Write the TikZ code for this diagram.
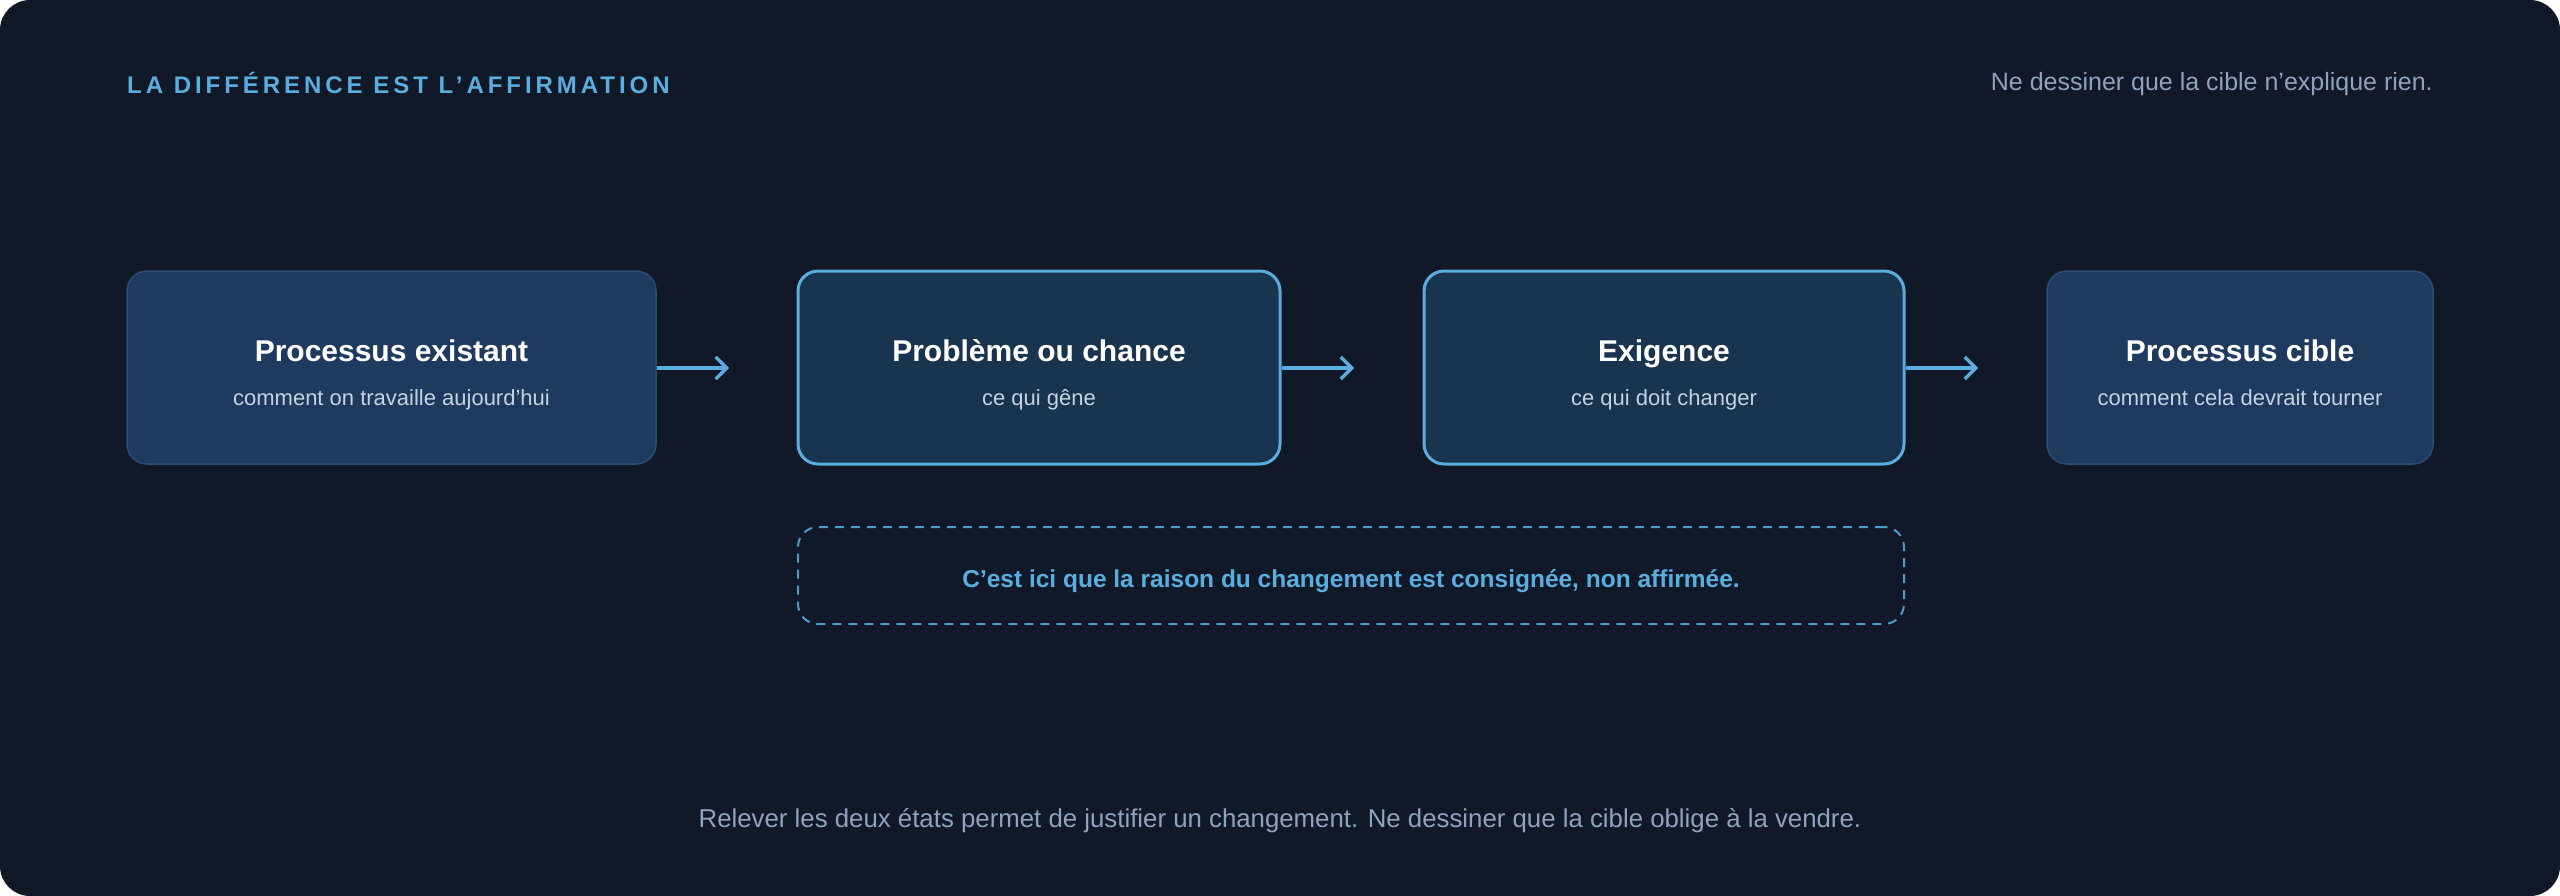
\documentclass[tikz,border=0pt]{standalone}
\usepackage{fontspec}
\setmainfont{Liberation Sans}
\usetikzlibrary{arrows.meta}
\definecolor{bgc}{HTML}{111827}
\definecolor{softfill}{HTML}{1F3A5F}
\definecolor{softline}{HTML}{2C4D74}
\definecolor{keyfill}{HTML}{18344F}
\definecolor{accent}{HTML}{5AAEDF}
\definecolor{subtxt}{HTML}{C5D2E2}
\definecolor{notetxt}{HTML}{8EA3BD}
\definecolor{dashline}{HTML}{4C9CCB}
\tikzset{
  softbox/.style={draw=softline, line width=1.5pt, fill=softfill, rounded corners=20pt, minimum height=193pt},
  keybox/.style={draw=accent, line width=3pt, fill=keyfill, rounded corners=20pt, minimum height=193pt},
  ttl/.style={text=white, font=\fontsize{30}{36}\selectfont\bfseries, inner sep=0pt, text height=22pt, text depth=6pt},
  sub/.style={text=subtxt, font=\fontsize{22}{26}\selectfont, inner sep=0pt, text height=16pt, text depth=5pt},
  note/.style={text=notetxt, inner sep=0pt, text height=18pt, text depth=5pt},
  arr/.style={draw=accent, line width=3.2pt, -{Straight Barb[length=11pt,width=22pt,line width=3.2pt]}},
  dashbox/.style={draw=dashline, line width=2pt, dash pattern=on 9pt off 7pt, rounded corners=20pt, minimum width=1106pt, minimum height=97pt}
}
\begin{document}
\begin{tikzpicture}[x=1pt,y=-1pt]
\useasboundingbox (0,0) rectangle (2560,896);
\fill[white] (0,0) rectangle (2560,896);
\fill[bgc, rounded corners=30pt] (0,0) rectangle (2560,896);

\node[anchor=west, text=accent, inner sep=0pt, text height=18pt, text depth=0pt, font=\fontsize{24}{28}\selectfont\bfseries\addfontfeature{LetterSpace=16.5}] (hdr) at (127,84.5) {LA DIFFÉRENCE EST L’AFFIRMATION};
\node[note, anchor=east, font=\fontsize{25}{30}\selectfont] (topnote) at (2433,84) {Ne dessiner que la cible n’explique rien.};

\node[softbox, minimum width=529pt] (b1) at (391.5,367.5) {};
\node[keybox, minimum width=482pt] (b2) at (1039,367.5) {};
\node[keybox, minimum width=480pt] (b3) at (1664,367.5) {};
\node[softbox, minimum width=386pt] (b4) at (2240,367.5) {};

\node[ttl] (t1) at (391.5,353) {Processus existant};
\node[sub] (s1) at (391.5,400) {comment on travaille aujourd’hui};
\node[ttl] (t2) at (1039,353) {Problème ou chance};
\node[sub] (s2) at (1039,400) {ce qui gêne};
\node[ttl] (t3) at (1664,353) {Exigence};
\node[sub] (s3) at (1664,400) {ce qui doit changer};
\node[ttl] (t4) at (2240,353) {Processus cible};
\node[sub] (s4) at (2240,400) {comment cela devrait tourner};

\coordinate (a1) at (729,368);
\coordinate (a2) at (1354,368);
\coordinate (a3) at (1978,368);
\draw[arr] (b1.east |- a1) -- (a1);
\draw[arr] (b2.east |- a2) -- (a2);
\draw[arr] (b3.east |- a3) -- (a3);

\node[dashbox] (d) at (1351,575.5) {};
\node[text=accent, inner sep=0pt, text height=18pt, text depth=5pt, font=\fontsize{24.5}{29}\selectfont\bfseries] (dt) at (1351,581) {C’est ici que la raison du changement est consignée, non affirmée.};

\node[note, font=\fontsize{25.8}{30}\selectfont] (bottom) at (1280,821) {Relever les deux états permet de justifier un changement. Ne dessiner que la cible oblige à la vendre.};
\end{tikzpicture}
\end{document}
